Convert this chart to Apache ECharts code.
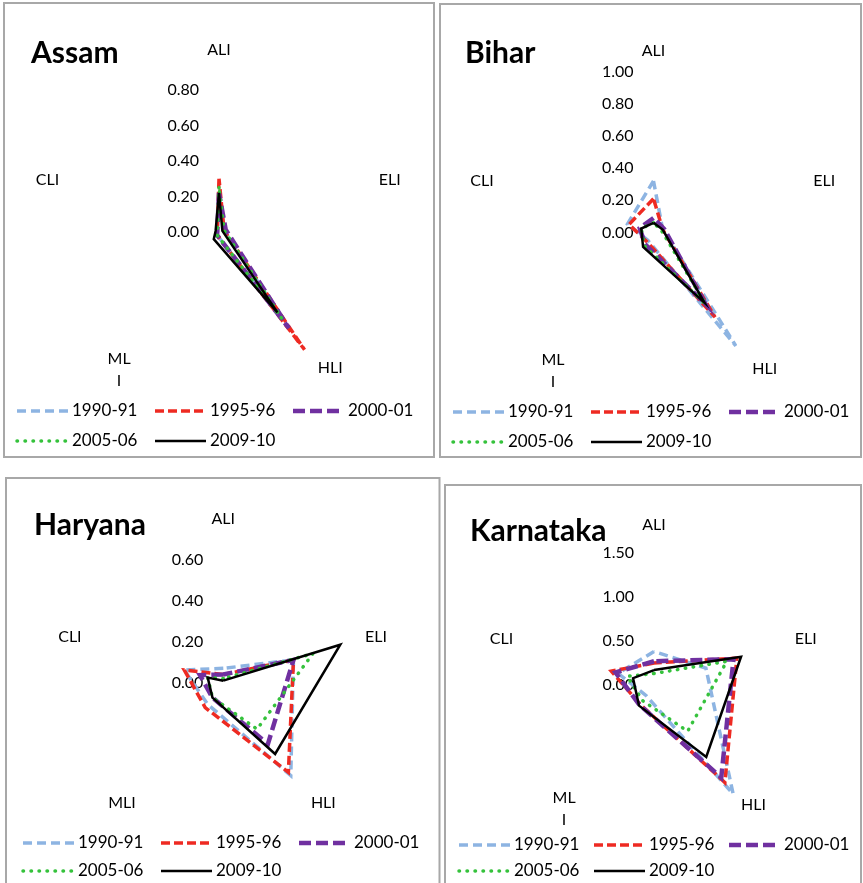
<!DOCTYPE html>
<html>
<head>
<meta charset="utf-8">
<script src="https://cdn.jsdelivr.net/npm/echarts@6/dist/echarts.min.js"></script>
<style>
  html, body { margin: 0; padding: 0; background: #ffffff; }
  #chart { width: 863px; height: 883px; }
</style>
</head>
<body>
<div id="chart"></div>
<script>
// Livelihood indices, clockwise from the top axis
const axisNames = ['ALI', 'ELI', 'HLI', 'MLI', 'CLI'];
const years = ['1990-91', '1995-96', '2000-01', '2005-06', '2009-10'];
const states = ['Assam', 'Bihar', 'Haryana', 'Karnataka'];

// One row per year, columns follow axisNames
const assamValues = [
  [0.22, 0.03, 0.62, 0.02, 0.01],
  [0.30, 0.03, 0.82, 0.02, 0.01],
  [0.22, 0.04, 0.67, 0.02, 0.01],
  [0.25, 0.03, 0.60, 0.02, 0.01],
  [0.22, 0.02, 0.56, 0.05, 0.02]
];
const biharValues = [
  [0.32, 0.06, 0.87, 0.06, 0.17],
  [0.21, 0.06, 0.65, 0.07, 0.16],
  [0.09, 0.07, 0.55, 0.09, 0.09],
  [0.06, 0.05, 0.55, 0.10, 0.08],
  [0.06, 0.06, 0.54, 0.11, 0.08]
];
const haryanaValues = [
  [0.07, 0.36, 0.56, 0.13, 0.20],
  [0.04, 0.36, 0.54, 0.15, 0.20],
  [0.04, 0.36, 0.37, 0.09, 0.12],
  [0.02, 0.46, 0.28, 0.09, 0.08],
  [0.01, 0.60, 0.43, 0.09, 0.08]
];
const karnatakaValues = [
  [0.38, 0.62, 1.53, 0.15, 0.43],
  [0.25, 0.99, 1.37, 0.27, 0.51],
  [0.27, 0.95, 1.30, 0.28, 0.46],
  [0.13, 0.87, 0.65, 0.22, 0.32],
  [0.17, 1.04, 1.01, 0.29, 0.25]
];
const stateValues = [assamValues, biharValues, haryanaValues, karnatakaValues];

// Value-axis range and number of intervals per state
const axisMax = [0.8, 1.0, 0.6, 1.5];
const axisSplits = [4, 5, 3, 3];
const mliLabels = ['ML\nI', 'ML\nI', 'MLI', 'ML\nI'];

// Line appearance per year
const yearStyles = [
  { color: '#8DB4E2', width: 3.5, dash: [9, 5], cap: 'butt' },
  { color: '#EE2A22', width: 3.5, dash: [9, 4], cap: 'butt' },
  { color: '#7030A0', width: 4.5, dash: [12, 5], cap: 'butt' },
  { color: '#35C23C', width: 3.5, dash: [0.5, 7.5], cap: 'round' },
  { color: '#000000', width: 2.5, dash: 'solid', cap: 'butt' }
];

// Panel geometry
const panels = [
  { box: [4, 3, 430, 454], center: [219, 232], radius: 142, gap: 26, topGap: 32, mliGap: 28, title: [31, 53], legend: [17, 411], colStep: 138, rowStep: 30 },
  { box: [440, 4, 421, 453], center: [653.5, 232.5], radius: 161, gap: 7, topGap: 13, mliGap: 10, title: [465, 53], legend: [453, 412], colStep: 138, rowStep: 30 },
  { box: [6, 478, 433.5, 430], center: [223.3, 682.7], radius: 123, gap: 26, topGap: 33, mliGap: 28, title: [34, 525], legend: [23, 843], colStep: 138, rowStep: 28 },
  { box: [445, 485, 416, 430], center: [654, 685], radius: 132, gap: 16, topGap: 20, mliGap: 21, title: [470, 531], legend: [459, 845], colStep: 135, rowStep: 26 }
];

const FONT = 'Lato, "Open Sans", sans-serif';

// ECharts lays radar indicators out counter-clockwise from the top
const chartOrder = [0, 4, 3, 2, 1];

const radars = panels.map((p, i) => ({
  center: p.center,
  radius: p.radius,
  startAngle: 90,
  shape: 'polygon',
  splitNumber: axisSplits[i],
  axisName: { color: '#000', fontFamily: FONT, fontSize: 16 },
  axisLine: { show: false },
  axisTick: { show: false },
  splitLine: { show: false },
  splitArea: { show: false },
  axisLabel: { show: false },
  indicator: chartOrder.map((k, j) => {
    const wrapped = k === 3 && mliLabels[i].indexOf('\n') >= 0;
    const ind = {
      name: k === 3 ? mliLabels[i] : axisNames[k],
      min: 0,
      max: axisMax[i],
      nameGap: j === 0 ? p.topGap : (wrapped ? p.mliGap : p.gap)
    };
    if (wrapped) {
      ind.nameTextStyle = { align: 'center', lineHeight: 22 };
    }
    if (j === 0) {
      ind.axisLabel = {
        show: true,
        color: '#000',
        fontFamily: FONT,
        fontSize: 16,
        margin: 20,
        formatter: v => Number(v).toFixed(2)
      };
    }
    return ind;
  })
}));

const series = stateValues.map((vals, i) => ({
  type: 'radar',
  radarIndex: i,
  symbol: 'none',
  silent: true,
  animation: false,
  data: vals.map((row, k) => ({
    name: years[k],
    value: chartOrder.map(c => row[c]),
    lineStyle: {
      color: yearStyles[k].color,
      width: yearStyles[k].width,
      type: yearStyles[k].dash,
      cap: yearStyles[k].cap,
      join: 'miter'
    },
    areaStyle: { opacity: 0 }
  }))
}));

// Panel frames, titles and legends
const graphics = [];
panels.forEach((p, i) => {
  graphics.push({
    type: 'rect', silent: true,
    shape: { x: p.box[0], y: p.box[1], width: p.box[2], height: p.box[3] },
    style: { fill: 'none', stroke: '#A8A8A8', lineWidth: 2 }
  });
  graphics.push({
    type: 'text', silent: true, x: p.title[0], y: p.title[1],
    style: { text: states[i], font: 'bold 30px ' + FONT, fill: '#000', verticalAlign: 'middle' }
  });
  years.forEach((yr, k) => {
    const col = k % 3, row = Math.floor(k / 3);
    const x = p.legend[0] + col * p.colStep;
    const y = p.legend[1] + row * p.rowStep;
    const s = yearStyles[k];
    graphics.push({
      type: 'line', silent: true,
      shape: { x1: x, y1: y, x2: x + 51, y2: y },
      style: { stroke: s.color, lineWidth: s.width, lineDash: s.dash === 'solid' ? null : s.dash, lineCap: s.cap }
    });
    graphics.push({
      type: 'text', silent: true, x: x + 55, y: y,
      style: { text: yr, font: '17px ' + FONT, fill: '#000', verticalAlign: 'middle' }
    });
  });
});

const chart = echarts.init(document.getElementById('chart'), null, { renderer: 'canvas' });
chart.setOption({
  backgroundColor: '#ffffff',
  animation: false,
  radar: radars,
  series: series,
  graphic: graphics
});
</script>
</body>
</html>
